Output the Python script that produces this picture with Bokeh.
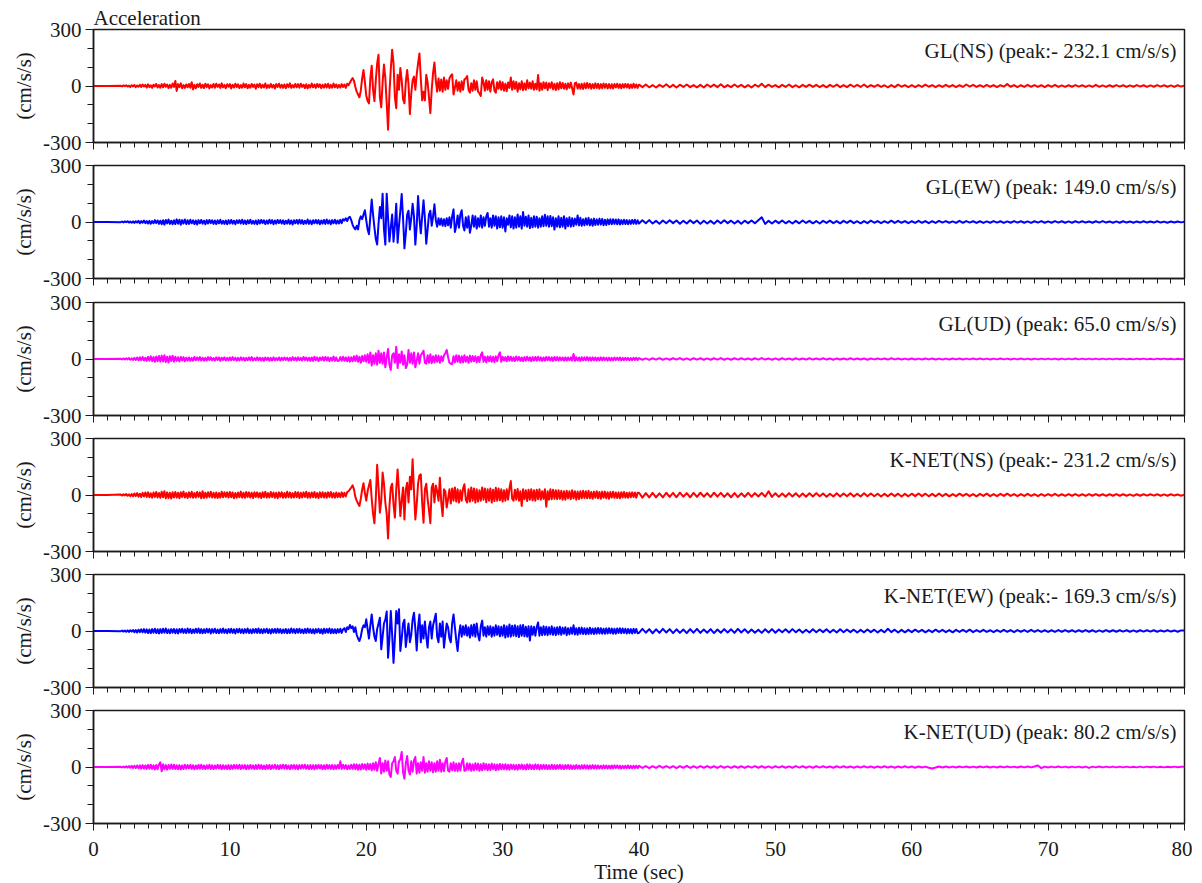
import numpy as np
from bokeh.plotting import figure
from bokeh.layouts import column
from bokeh.models import Range1d, FixedTicker, Label
from bokeh.embed import file_html
from bokeh.resources import INLINE

FONT = "Liberation Serif"

# time grid segments: (start sec, step sec)
seg_start = [0.0, 2.0, 18.0, 30.0, 40.0]
seg_step = [1.0, 0.1, 0.1, 0.1, 0.25]

x_ticks = [0, 10, 20, 30, 40, 50, 60, 70, 80]
x_tick_labels = ["0", "10", "20", "30", "40", "50", "60", "70", "80"]
y_ticks = [-300, 0, 300]
y_tick_labels = ["-300", "0", "300"]

# ---------------- GL (NS) ----------------
gl_ns_0 = [0, 0]
gl_ns_a = [1,-2,3,-1,4,-3,2,-5,4,-2,
           5,-6,3,-4,7,-5,8,-3,6,-8,
           9,-6,4,-10,7,-3,11,-8,5,-9,
           10,-7,12,-4,8,-11,6,-9,13,-5,
           27,-26,10,-6,14,-12,5,-10,8,-7,
           11,-9,20,-18,6,-12,9,-5,13,-10,
           7,-11,12,-6,9,-13,5,-8,11,-9,
           12,-5,8,-10,14,-7,6,-12,9,-4,
           10,-13,7,-8,12,-6,9,-11,5,-9,
           13,-7,10,-12,6,-9,11,-5,8,-14,
           9,-6,12,-10,7,-8,13,-11,5,-9,
           11,-8,6,-13,10,-5,12,-9,7,-10,
           8,-12,9,-6,14,-10,5,-8,11,-7,
           10,-9,12,-5,7,-11,9,-13,6,-8,
           13,-7,8,-10,11,-6,9,-12,7,-9,
           10,-8,12,-11,6,-9,13,-7,8,-10]
gl_ns_b = [6,-8,10,-5,8,-10,12,4,18,30,
           42,28,-5,-30,-45,-60,-25,40,85,20,
           -50,-80,-92,40,108,-20,-80,30,120,166,
           -60,-113,20,114,40,-92,-232,-40,90,193,
           120,-60,-118,60,-20,95,30,-70,-92,20,
           85,10,-149,-40,30,50,-20,60,120,173,
           40,-76,-30,-76,60,20,-60,-144,-20,70,
           125,30,-30,40,-25,35,-30,45,-20,30,
           -15,40,55,62,-45,-10,30,-25,20,-30,
           25,-20,35,40,53,-20,-35,15,-25,30,
           -20,25,-30,-40,-53,45,20,-25,30,-20,
           25,-30,20,35,-25,-35,20,-15,25,-20]
gl_ns_c = [20,-25,12,-28,18,-10,45,-20,25,-15,
           22,-30,15,-18,25,-22,14,-20,30,-12,
           18,-15,25,-20,12,-18,58,-25,15,-20,
           20,-12,18,-22,15,-10,20,-18,12,-22,
           15,-18,20,-12,16,-15,12,-18,14,-10,
           18,-12,-45,15,18,-14,10,-15,12,-16,
           14,-12,16,-10,12,-15,10,-12,14,-11,
           12,-14,10,-12,13,-9,11,-13,10,-12,
           9,-13,11,-8,12,-10,9,-12,10,-9,
           11,-8,10,-12,8,-10,12,-9,8,-10]
gl_ns_d = [7,-6,8,-7,5,-8,6,-5,9,-7,
           6,-8,7,-5,8,-6,5,-7,6,-8,
           8,-5,7,-6,9,-7,5,-6,8,-5,
           6,-7,5,-8,7,-4,12,-6,7,-5,
           5,-7,6,-5,8,-6,4,-7,6,-5,
           7,-5,6,-6,5,-7,6,-4,7,-6,
           5,-6,7,-4,6,-5,8,-6,5,-4,
           6,-5,4,-7,5,-6,7,-4,5,-6,
           4,-6,5,-5,7,-4,5,-6,4,-5,
           6,-4,5,-6,4,-5,8,-3,6,-5,
           4,-5,6,-4,5,-6,4,-3,10,-4,
           5,-6,4,-5,6,-4,5,-5,4,-6,
           5,-4,6,-5,3,-5,4,-4,5,-3,
           4,-5,3,-4,6,-4,3,-5,4,-4,
           5,-3,4,-5,3,-4,5,-3,4,-5,
           3,-4,5,-3,4,-4,3,-5,4,-3,
           2]

# ---------------- GL (EW) ----------------
gl_ew_0 = [0, 0]
gl_ew_a = [-1,2,-2,3,-1,4,-3,2,-4,3,
           -5,4,-3,6,-7,5,-4,8,-6,5,
           -8,6,-9,5,-7,10,-6,8,-10,7,
           -12,9,-14,11,-8,13,-10,7,-12,9,
           -11,14,-9,12,-15,10,-8,13,-11,9,
           -10,12,-7,9,-11,8,-13,10,-7,11,
           -9,7,-12,10,-8,11,-6,9,-10,8,
           -11,9,-7,12,-9,6,-10,8,-12,10,
           -8,11,-9,7,-12,9,-6,10,-8,12,
           -10,8,-11,9,-7,12,-9,6,-10,8,
           -12,10,-8,11,-6,9,-11,8,-9,12,
           -7,10,-12,8,-9,11,-6,10,-8,9,
           -11,7,-9,12,-10,8,-13,9,-7,11,
           -9,12,-8,10,-11,7,-9,13,-10,8,
           -12,9,-7,11,-8,10,-12,8,-9,11,
           -10,13,-8,9,-12,10,-7,12,-9,8]
gl_ew_b = [-8,12,-6,15,8,20,5,22,27,10,
           -15,-30,-39,-20,-39,10,30,15,40,62,
           10,-40,-65,30,119,40,-30,-90,-120,-10,
           80,20,150,-40,-120,150,20,-103,-30,40,
           -105,-20,97,-110,-20,60,149,20,-140,-60,
           40,60,-40,20,97,30,-120,-20,138,20,
           -60,30,115,20,-115,-40,40,60,-20,30,
           94,10,-25,20,-15,18,-20,15,-22,20,
           -18,25,-30,30,67,-53,-20,35,-30,40,
           62,-20,-45,25,-30,30,-57,-20,35,-25,
           30,-35,20,-25,35,-30,25,-20,30,48,
           -25,20,-30,35,-20,30,-35,25,-28,30]
gl_ew_c = [-30,25,-50,20,-15,35,-28,30,-35,25,
           -30,40,-25,30,-35,53,-20,28,-25,35,
           -32,22,-28,30,-25,28,-30,20,-25,30,
           -22,38,-20,30,-25,32,-22,25,-40,20,
           -25,30,-28,22,-25,30,-35,20,-22,25,
           -25,20,-22,18,-15,35,-18,22,-20,15,
           -18,20,-15,22,-18,15,-20,18,-16,14,
           -15,18,-14,16,-17,12,-16,14,-12,15,
           -12,15,-10,13,-12,14,-13,10,-11,12,
           -11,10,-12,9,-10,11,-9,12,-10,9]
gl_ew_d = [-8,9,-7,10,-8,6,-9,8,-7,9,
           -6,8,-9,7,-8,9,-6,8,-10,7,
           -8,6,-9,8,-7,9,-6,7,-8,6,
           -9,7,-6,8,-7,9,25,-10,6,-8,
           7,-6,8,-7,5,-8,6,-7,8,-5,
           6,-7,5,-8,6,-5,7,-6,5,-7,
           6,-5,7,-6,4,-7,5,-6,7,-4,
           5,-6,4,-5,7,-5,6,-4,5,-6,
           4,-5,6,-4,5,-6,4,-5,6,-3,
           5,-4,3,-5,6,-4,5,-3,4,-5,
           4,-5,3,-4,5,-3,4,-5,3,-4,
           5,-3,4,-4,3,-5,4,-3,5,-4,
           3,-4,5,-3,4,-4,3,-4,4,-3,
           4,-3,3,-4,4,-3,5,-3,3,-4,
           3,-4,4,-3,3,-4,3,-3,4,-3,
           3,-3,4,-3,2,-4,3,-3,3,-2,
           1]

# ---------------- GL (UD) ----------------
gl_ud_0 = [0, 0]
gl_ud_a = [1,-2,3,-3,4,-2,5,-4,3,-5,
           6,-5,8,-7,9,-6,11,-8,7,-10,
           12,-9,14,-11,10,-15,13,-12,16,-14,
           18,-13,20,-16,12,-19,15,-11,17,-14,
           12,-10,9,-13,11,-8,10,-12,7,-9,
           8,-10,6,-9,11,-7,8,-6,10,-8,
           7,-9,6,-8,10,-6,9,-7,5,-8,
           9,-6,8,-10,7,-5,9,-8,6,-7,
           8,-7,10,-6,7,-9,6,-8,9,-5,
           7,-9,6,-7,8,-6,10,-8,5,-7,
           9,-6,7,-8,6,-10,8,-5,7,-9,
           6,-8,9,-7,5,-6,8,-9,7,-6,
           8,-5,7,-9,6,-8,10,-6,7,-8,
           9,-7,6,-8,11,-6,8,-9,7,-10,
           8,-10,12,-7,9,-11,8,-6,10,-9,
           11,-8,9,-12,7,-9,13,-10,8,-11]
gl_ud_b = [-8,10,-9,12,-10,8,-12,10,-14,9,
           -12,15,-10,18,-15,12,-20,16,-12,20,
           -15,25,-20,35,-35,20,-25,30,-30,44,
           -20,30,-25,35,-44,10,53,-30,-58,20,
           30,-20,65,-48,25,-20,40,-30,20,-48,
           -30,48,-20,30,-25,35,-44,-10,30,-25,
           20,30,44,-20,-25,20,-20,25,-22,15,
           -18,20,-15,18,-20,15,-12,20,30,48,
           10,-20,-25,-27,15,-18,20,-15,18,-20,
           15,-18,20,-15,12,-20,18,-14,16,-12,
           15,-18,12,-16,20,35,-15,12,-18,14,
           -12,15,-14,12,-16,14,-12,20,35,-15]
gl_ud_c = [12,-8,10,-12,14,-9,12,-10,9,-11,
           13,-8,11,-10,8,-12,10,-9,12,-8,
           9,-11,10,-8,11,-9,12,-8,9,-10,
           8,-9,11,-7,10,-8,9,-10,11,-8,
           10,-8,9,-7,8,-9,9,-8,8,-7,
           9,-8,27,-10,9,-8,8,-10,9,-7,
           9,-7,10,-8,8,-9,9,-7,8,-8,
           7,-8,9,-7,8,-6,7,-9,7,-8,
           6,-7,8,-6,7,-5,8,-7,6,-6,
           7,-5,6,-7,5,-6,7,-5,6,-5]
gl_ud_d = [5,-4,3,-5,4,-3,5,-4,3,-4,
           4,-3,5,-4,3,-5,4,-3,4,-4,
           3,-4,4,-3,5,-4,3,-4,4,-3,
           4,-3,3,-4,4,-3,5,-3,3,-4,
           3,-4,4,-3,3,-4,4,-3,3,-3,
           4,-3,3,-3,4,-3,3,-4,3,-3,
           3,-3,4,-3,3,-3,3,-4,3,-2,
           3,-2,3,-3,4,-2,3,-3,2,-3,
           3,-3,2,-3,3,-2,3,-3,2,-3,
           2,-3,3,-2,3,-3,2,-2,3,-2,
           3,-2,2,-3,2,-2,3,-2,2,-3,
           2,-2,3,-2,2,-3,2,-2,2,-2,
           2,-2,2,-3,2,-2,2,-2,3,-2,
           2,-2,2,-2,2,-2,2,-2,2,-2,
           2,-1,2,-2,1,-2,2,-1,2,-2,
           1,-2,2,-1,2,-1,1,-2,1,-1,
           0]

# ---------------- K-NET (NS) ----------------
kn_ns_0 = [0, 0]
kn_ns_a = [2,-3,4,-2,5,-4,3,-6,5,-7,
           8,-6,10,-9,7,-11,12,-8,13,-10,
           14,-12,9,-15,13,-10,16,-13,11,-15,
           17,-12,20,-18,14,-16,12,-19,15,-13,
           16,-14,12,-17,15,-11,18,-13,10,-16,
           14,-12,17,-15,11,-13,16,-10,14,-18,
           20,-16,12,-14,15,-11,17,-13,12,-15,
           13,-16,11,-14,17,-12,15,-10,14,-13,
           16,-12,14,-17,11,-15,13,-12,18,-14,
           12,-15,16,-11,14,-13,12,-16,15,-10,
           14,-13,11,-16,15,-12,17,-14,10,-13,
           16,-11,13,-15,12,-17,14,-10,15,-14,
           11,-14,17,-12,13,-15,10,-13,16,-12,
           15,-16,12,-13,14,-11,17,-15,12,-14,
           13,-12,16,-14,11,-16,14,-12,15,-13,
           12,-15,14,-11,16,-13,10,-14,13,-12]
kn_ns_b = [10,-12,14,-10,12,-8,15,20,30,40,
           51,30,-10,-30,-45,-58,-20,30,62,10,
           -30,20,50,80,-20,-100,-150,-20,160,40,
           -94,-30,119,60,-40,-100,-231,-60,40,60,
           -50,-120,30,136,20,-112,-30,40,-130,30,
           65,-40,97,30,190,20,-130,-50,60,104,
           110,-40,-147,30,60,-20,-80,-150,40,60,
           -40,50,20,-30,92,-40,-112,30,20,-67,
           -20,30,-45,35,-30,40,-35,30,-40,25,
           -30,35,57,-25,-40,30,-35,40,-30,35,
           -40,30,-35,25,-30,40,-25,35,-38,30,
           -30,35,-40,28,-32,38,-30,35,-28,30]
kn_ns_c = [-35,25,-30,30,-25,35,74,-20,-30,28,
           -25,32,-30,20,-58,30,-22,25,-32,28,
           -25,30,-28,25,-30,28,-22,30,-25,20,
           -20,30,-62,20,-25,30,-22,28,-20,25,
           -22,25,-20,22,-25,20,-25,22,-18,20,
           -22,25,-18,20,-25,18,-22,20,-18,22,
           -16,20,-18,22,-18,16,-20,18,-15,20,
           -17,16,-20,18,-15,18,-17,15,-20,16,
           -14,17,-15,13,-16,14,-18,15,-13,16,
           -14,12,-15,13,-12,14,-11,13,-14,12]
kn_ns_d = [12,-14,10,-13,11,-12,9,-13,12,-10,
           11,-12,13,-9,10,-12,11,-10,12,-9,
           10,-11,12,-9,11,-10,9,-12,10,-11,
           9,-10,11,-9,10,-8,11,-9,20,-10,
           9,-10,8,-9,10,-8,9,-10,8,-9,
           9,-8,10,-7,8,-9,7,-8,9,-8,
           8,-7,9,-8,7,-8,9,-7,8,-7,
           7,-8,6,-7,8,-6,7,-8,6,-7,
           7,-6,8,-6,7,-7,6,-7,8,-6,
           6,-7,5,-6,7,-5,6,-6,5,-7,
           6,-5,7,-6,5,-6,6,-5,7,-5,
           5,-6,5,-5,6,-5,4,-6,5,-5,
           5,-4,6,-5,4,-5,5,-4,5,-5,
           4,-5,5,-4,5,-4,4,-5,4,-4,
           5,-4,4,-4,3,-5,4,-4,4,-3,
           4,-3,4,-4,3,-4,4,-3,3,-4,
           2]

# ---------------- K-NET (EW) ----------------
kn_ew_0 = [0, 0]
kn_ew_a = [-1,2,-3,2,-4,3,-5,4,-3,5,
           -6,5,-8,7,-6,9,-7,10,-8,9,
           -11,8,-12,10,-9,12,-11,9,-13,10,
           -10,12,-9,13,-11,8,-12,10,-9,11,
           -12,9,-13,11,-8,12,-10,9,-11,13,
           -9,11,-12,8,-10,12,-9,13,-11,10,
           -12,9,-10,12,-8,11,-13,10,-9,12,
           -11,8,-12,10,-9,13,-10,8,-12,11,
           -9,12,-10,9,-13,11,-8,12,-10,9,
           -12,10,-9,13,-11,8,-12,10,-9,11,
           -10,13,-11,9,-12,10,-8,12,-11,9,
           -13,10,-9,11,-10,12,-9,10,-12,8,
           -10,11,-12,9,-11,13,-9,10,-12,11,
           -9,12,-10,8,-12,11,-10,13,-9,10,
           -11,9,-13,10,-8,12,-11,9,-14,12,
           -10,11,-9,13,-12,10,-11,9,-12,10]
kn_ew_b = [-8,12,-10,8,15,-5,20,10,32,15,
           25,-5,20,-20,-40,-53,-30,10,30,20,
           62,10,-40,30,88,20,-30,-53,10,40,
           70,-97,-30,40,60,103,-142,-40,106,-20,
           -169,-40,106,40,115,-106,-40,40,60,-85,
           -20,40,-60,-20,60,97,10,-103,20,88,
           -60,30,-40,50,-30,-88,20,50,-40,30,
           60,92,-30,-60,40,-30,50,-88,-20,40,
           20,-40,-60,40,88,20,-50,-106,-20,30,
           -30,25,-20,30,-25,20,-35,30,-25,35,
           -30,40,-20,-50,25,55,-25,20,-30,25,
           -20,25,-30,20,-25,30,-20,25,-28,22]
kn_ew_c = [-25,30,-35,25,-30,35,-30,28,-25,30,
           -28,25,-32,30,-25,32,-28,22,-30,25,
           -50,25,-20,22,-25,20,45,-25,20,-22,
           25,-20,22,-22,20,-18,25,-20,18,-22,
           20,-18,22,-20,18,-15,20,-22,15,-18,
           18,-15,30,-18,15,-20,17,-15,18,-16,
           15,-17,14,-16,17,-15,13,-16,15,-14,
           16,-13,15,-14,12,-15,14,-13,15,-12,
           13,-15,12,-14,13,-11,14,-12,13,-11,
           12,-13,11,-12,10,-13,12,-10,11,-12]
kn_ew_d = [-10,11,-9,10,-12,9,-10,11,-8,10,
           -11,9,-10,8,-11,10,-9,11,-10,8,
           -9,10,-11,8,-9,10,-8,9,-10,11,
           -8,9,-10,8,-9,7,-10,9,-8,10,
           -9,8,-7,9,-8,10,-7,8,-9,7,
           -8,9,-7,8,-6,9,-8,7,-8,9,
           -7,8,-6,7,-8,6,-7,8,-6,7,
           -8,6,-7,12,-6,7,-8,6,-7,6,
           -6,7,-5,6,-7,5,-6,7,-5,6,
           -6,5,-7,6,-5,6,-5,7,-6,5,
           -5,6,-5,4,-6,5,-5,6,-4,5,
           -6,5,-4,5,-5,6,-4,5,-5,4,
           -5,4,-5,5,-4,5,-4,4,-5,4,
           -4,5,-4,4,-5,3,-4,5,-4,4,
           -4,4,-3,4,-4,3,-4,4,-3,4,
           -3,4,-4,3,-3,4,-3,3,-4,3,
           2]

# ---------------- K-NET (UD) ----------------
kn_ud_0 = [0, 0]
kn_ud_a = [1,-2,2,-3,4,-3,5,-4,6,-5,
           7,-6,8,-7,9,-8,10,-9,8,-10,
           11,-9,12,-10,9,-13,11,-12,14,25,
           -23,15,-12,10,-14,11,-9,13,-10,12,
           -11,9,-12,10,-13,8,-11,12,-9,10,
           -8,11,-10,9,-12,8,-10,11,-9,12,
           -10,8,-11,9,-8,12,-10,9,-11,8,
           -9,11,-8,10,-12,9,-10,8,-11,10,
           -12,9,-10,11,-8,10,-9,12,-11,9,
           -8,10,-12,9,-10,11,-9,8,-11,10,
           -10,12,-9,10,-11,8,-12,10,-9,11,
           -11,9,-8,12,-10,9,-11,10,-8,12,
           -9,11,-10,8,-12,10,-9,11,-10,9,
           -12,10,-9,11,-8,12,-10,9,-11,10,
           -10,9,-12,10,-9,11,-8,10,-12,9,
           -11,12,-9,10,-10,11,-12,9,-10,11]
kn_ud_b = [-8,30,-10,12,-9,10,-12,8,-10,12,
           -10,15,-12,14,-15,12,-13,16,-10,14,
           -15,18,-12,16,-18,20,-15,25,-20,18,
           48,-35,20,-25,35,-20,30,-40,-53,20,
           30,53,-20,-35,30,40,80,-30,-62,20,
           58,-20,-40,30,-25,35,53,-35,20,-30,
           25,-20,53,-30,20,-25,30,-20,25,-28,
           20,-25,30,-20,38,-25,20,-22,30,48,
           -20,-25,20,-18,25,-20,18,-22,20,-18,
           25,44,-20,-18,20,-15,18,-20,15,-18,
           20,-15,18,-20,15,-18,20,-14,16,-18,
           14,-16,18,-12,15,-17,13,-15,16,-12]
kn_ud_c = [14,-12,15,-13,12,-14,13,-11,12,-13,
           11,-14,12,-10,13,-12,10,-13,14,-11,
           13,-11,10,-12,14,-10,12,-13,11,-10,
           12,-10,11,-12,9,-11,12,-10,10,-11,
           10,-9,12,-10,9,-11,10,-9,11,-10,
           9,-11,8,-10,10,-9,8,-10,9,-8,
           10,-8,9,-10,8,-9,10,-8,9,-9,
           8,-9,7,-8,9,-7,8,-9,7,-8,
           8,-7,9,-6,8,-7,7,-8,6,-7,
           7,-6,8,-7,6,-7,7,-6,7,-6]
kn_ud_d = [6,-5,5,-6,4,-5,6,-4,5,-5,
           4,-6,5,-4,6,-5,4,-5,5,-4,
           5,-4,4,-5,5,-4,3,-5,4,-4,
           4,-5,4,-3,5,-4,4,-4,3,-5,
           4,-3,4,-4,3,-4,5,-3,4,-4,
           3,-4,4,-3,4,-3,3,-4,4,-3,
           4,-3,3,-4,3,-3,4,-3,3,-4,
           3,-3,4,-3,3,-4,3,-3,4,-3,
           3,-4,3,-3,2,-4,-8,-3,3,-3,
           3,-3,2,-3,3,-2,3,-3,2,-3,
           3,-2,3,-3,2,-3,3,-2,3,-2,
           2,-3,3,-2,3,-2,3,8,-6,2,
           -3,2,-2,3,-2,2,-3,2,-2,2,
           -3,2,-5,2,-2,3,-2,2,-2,2,
           -2,2,-2,2,-2,1,-2,2,-2,2,
           -1,2,-2,1,-2,1,-1,2,-1,1,
           1]

series_names = ["GL(NS) (peak:- 232.1 cm/s/s)",
                "GL(EW) (peak: 149.0 cm/s/s)",
                "GL(UD) (peak: 65.0 cm/s/s)",
                "K-NET(NS) (peak:- 231.2 cm/s/s)",
                "K-NET(EW) (peak:- 169.3 cm/s/s)",
                "K-NET(UD) (peak: 80.2 cm/s/s)"]
series_colors = ["#ff0000", "#0000ff", "#ff00ff", "#ff0000", "#0000ff", "#ff00ff"]
series_segments = [
    [gl_ns_0, gl_ns_a, gl_ns_b, gl_ns_c, gl_ns_d],
    [gl_ew_0, gl_ew_a, gl_ew_b, gl_ew_c, gl_ew_d],
    [gl_ud_0, gl_ud_a, gl_ud_b, gl_ud_c, gl_ud_d],
    [kn_ns_0, kn_ns_a, kn_ns_b, kn_ns_c, kn_ns_d],
    [kn_ew_0, kn_ew_a, kn_ew_b, kn_ew_c, kn_ew_d],
    [kn_ud_0, kn_ud_a, kn_ud_b, kn_ud_c, kn_ud_d],
]


def build(segs):
    ts, vs = [], []
    for s0, ds, seg in zip(seg_start, seg_step, segs):
        ts.append(s0 + ds * np.arange(len(seg)))
        vs.append(np.asarray(seg, dtype=float))
    return np.concatenate(ts), np.concatenate(vs)


x_range = Range1d(0, 80)
tops = [29, 12, 13, 12, 12, 12]
bottoms = [11, 11, 11, 11, 11, 59]
FRAME_W, FRAME_H = 1091, 113
INK = "#1a1a1a"

figs = []
for i in range(6):
    last = (i == 5)
    p = figure(frame_width=FRAME_W, frame_height=FRAME_H,
               x_range=x_range, y_range=Range1d(-300, 300),
               output_backend="svg", toolbar_location=None, tools="",
               min_border_left=93, min_border_right=8,
               min_border_top=tops[i], min_border_bottom=bottoms[i])
    p.background_fill_color = "white"
    p.border_fill_color = "white"
    p.grid.visible = False
    p.outline_line_color = INK
    p.outline_line_width = 1.5

    t, v = build(series_segments[i])
    p.line(t, v, line_color=series_colors[i], line_width=2, line_join="round")

    # x axis
    xa = p.xaxis[0]
    xa.ticker = FixedTicker(ticks=x_ticks, minor_ticks=list(range(0, 81)))
    xa.major_tick_out = 7
    xa.major_tick_in = 0
    xa.minor_tick_out = 5
    xa.minor_tick_in = 0
    xa.axis_line_color = INK
    xa.axis_line_width = 1.5
    xa.major_tick_line_color = INK
    xa.minor_tick_line_color = INK
    if last:
        xa.major_label_overrides = {k: s for k, s in zip(x_ticks, x_tick_labels)}
        xa.major_label_text_font = FONT
        xa.major_label_text_font_size = "21px"
        xa.major_label_text_color = INK
        xa.major_label_standoff = 11
        xa.axis_label = "Time (sec)"
        xa.axis_label_text_font = FONT
        xa.axis_label_text_font_size = "21px"
        xa.axis_label_text_font_style = "normal"
        xa.axis_label_text_color = INK
        xa.axis_label_standoff = 1
    else:
        xa.major_label_text_font_size = "0px"
        xa.major_label_text_color = None
        xa.major_label_standoff = 0

    # y axis
    ya = p.yaxis[0]
    ya.ticker = FixedTicker(ticks=y_ticks, minor_ticks=[-200, -100, 100, 200])
    ya.major_label_overrides = {k: s for k, s in zip(y_ticks, y_tick_labels)}
    ya.major_tick_out = 8
    ya.major_tick_in = 0
    ya.minor_tick_out = 6
    ya.minor_tick_in = 0
    ya.axis_line_color = INK
    ya.axis_line_width = 1.5
    ya.major_tick_line_color = INK
    ya.minor_tick_line_color = INK
    ya.major_label_text_font = FONT
    ya.major_label_text_font_size = "21px"
    ya.major_label_text_color = INK
    ya.major_label_standoff = 4
    ya.axis_label = "(cm/s/s)"
    ya.axis_label_text_font = FONT
    ya.axis_label_text_font_size = "21px"
    ya.axis_label_text_font_style = "normal"
    ya.axis_label_text_color = INK
    ya.axis_label_standoff = 4

    p.add_layout(Label(x=80, y=300, x_offset=-8, y_offset=-21,
                       text=series_names[i], text_align="right",
                       text_baseline="middle", text_font=FONT,
                       text_font_size="21px", text_color=INK))
    if i == 0:
        p.title.text = "Acceleration"
        p.title.align = "left"
        p.title.offset = 0
        p.title.standoff = 0
        p.title.text_font = FONT
        p.title.text_font_size = "21px"
        p.title.text_font_style = "normal"
        p.title.text_color = INK
    figs.append(p)

layout = column(*figs, spacing=0)
open("out.html", "w").write(file_html(layout, INLINE))
